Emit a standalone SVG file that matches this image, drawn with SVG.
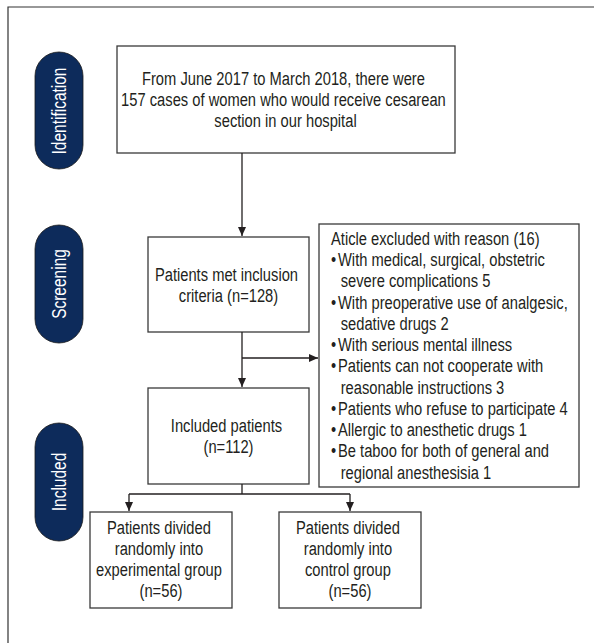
<svg xmlns="http://www.w3.org/2000/svg" width="594" height="643" viewBox="0 0 594 643">
<style>
  .frame{fill:none;stroke:#333;stroke-width:1.2}
  .box{fill:#fff;stroke:#3a3a3a;stroke-width:1.3}
  .pill{fill:#0d2b5b;stroke:#1a1a1a;stroke-width:0.8}
  .t{font-family:"Liberation Sans",Arial,sans-serif;font-size:19px;fill:#231f20}
  .c{text-anchor:middle}
  .pt{font-family:"Liberation Sans",Arial,sans-serif;font-size:20px;fill:#fff;text-anchor:middle}
  .ln{fill:none;stroke:#231f20;stroke-width:1.3}
</style>
<defs>
  <marker id="ah" markerWidth="10" markerHeight="10" refX="9" refY="5" orient="auto" markerUnits="userSpaceOnUse">
    <path d="M0,1 L9,5 L0,9 Z" fill="#231f20"/>
  </marker>
</defs>
<rect x="0" y="0" width="594" height="643" fill="#fff"/>
<path class="frame" d="M8,643 L8,7 L594,7"/>

<g id="pill-identification">
  <rect class="pill" x="35" y="52" width="48" height="117" rx="24" ry="24"/>
  <text class="pt" transform="translate(65.5,111) rotate(-90) scale(0.775,1)">Identification</text>
</g>
<g id="pill-screening">
  <rect class="pill" x="35" y="225" width="48" height="118" rx="24" ry="24"/>
  <text class="pt" transform="translate(65.5,284) rotate(-90) scale(0.775,1)">Screening</text>
</g>
<g id="pill-included">
  <rect class="pill" x="35" y="423" width="48" height="118" rx="24" ry="24"/>
  <text class="pt" transform="translate(65.5,482) rotate(-90) scale(0.775,1)">Included</text>
</g>

<g id="node-identification">
  <rect class="box" x="117" y="46" width="338" height="107"/>
  <text class="t c" transform="translate(285.5,0) scale(0.775,1)">
    <tspan x="0" y="85">From June 2017 to March 2018, there were</tspan>
    <tspan x="0" y="106">157 cases of women who would receive cesarean</tspan>
    <tspan x="0" y="127">section in our hospital</tspan>
  </text>
</g>

<g id="node-screening">
  <rect class="box" x="148" y="237" width="161" height="95"/>
  <text class="t c" transform="translate(228.5,0) scale(0.775,1)">
    <tspan x="0" y="281">Patients met inclusion</tspan>
    <tspan x="0" y="302">criteria (n=128)</tspan>
  </text>
</g>

<g id="node-excluded">
  <rect class="box" x="319" y="224" width="260" height="263"/>
  <text class="t" transform="translate(331,0) scale(0.775,1)">
    <tspan x="0" y="245">Aticle excluded with reason (16)</tspan>
    <tspan x="0" y="266.3">•</tspan><tspan x="9" y="266.3">With medical, surgical, obstetric</tspan>
    <tspan x="12.5" y="287.5">severe complications 5</tspan>
    <tspan x="0" y="308.8">•</tspan><tspan x="9" y="308.8">With preoperative use of analgesic,</tspan>
    <tspan x="12.5" y="330">sedative drugs 2</tspan>
    <tspan x="0" y="351.3">•</tspan><tspan x="9" y="351.3">With serious mental illness</tspan>
    <tspan x="0" y="372.5">•</tspan><tspan x="9" y="372.5">Patients can not cooperate with</tspan>
    <tspan x="12.5" y="393.8">reasonable instructions 3</tspan>
    <tspan x="0" y="415">•</tspan><tspan x="9" y="415">Patients who refuse to participate 4</tspan>
    <tspan x="0" y="436.3">•</tspan><tspan x="9" y="436.3">Allergic to anesthetic drugs 1</tspan>
    <tspan x="0" y="457.5">•</tspan><tspan x="9" y="457.5">Be taboo for both of general and</tspan>
    <tspan x="12.5" y="478.8">regional anesthesisia 1</tspan>
  </text>
</g>

<g id="node-included">
  <rect class="box" x="148" y="388" width="161" height="96"/>
  <text class="t c" transform="translate(228.5,0) scale(0.775,1)">
    <tspan x="0" y="432">Included patients</tspan>
    <tspan x="0" y="453">(n=112)</tspan>
  </text>
</g>

<g id="node-experimental">
  <rect class="box" x="90" y="512" width="142" height="96"/>
  <text class="t c" transform="translate(161,0) scale(0.775,1)">
    <tspan x="0" y="534">Patients divided</tspan>
    <tspan x="0" y="555">randomly into</tspan>
    <tspan x="0" y="576">experimental group</tspan>
    <tspan x="0" y="597">(n=56)</tspan>
  </text>
</g>

<g id="node-control">
  <rect class="box" x="279" y="512" width="142" height="96"/>
  <text class="t c" transform="translate(350,0) scale(0.775,1)">
    <tspan x="0" y="534">Patients divided</tspan>
    <tspan x="0" y="555">randomly into</tspan>
    <tspan x="0" y="576">control group</tspan>
    <tspan x="0" y="597">(n=56)</tspan>
  </text>
</g>

<g id="connectors">
  <path class="ln" d="M242,153 L242,236" marker-end="url(#ah)"/>
  <path class="ln" d="M242,332 L242,387" marker-end="url(#ah)"/>
  <path class="ln" d="M242,358 L318,358" marker-end="url(#ah)"/>
  <path class="ln" d="M242,484 L242,494"/>
  <path class="ln" d="M129,494 L350,494"/>
  <path class="ln" d="M129,494 L129,511" marker-end="url(#ah)"/>
  <path class="ln" d="M350,494 L350,511" marker-end="url(#ah)"/>
</g>
</svg>
